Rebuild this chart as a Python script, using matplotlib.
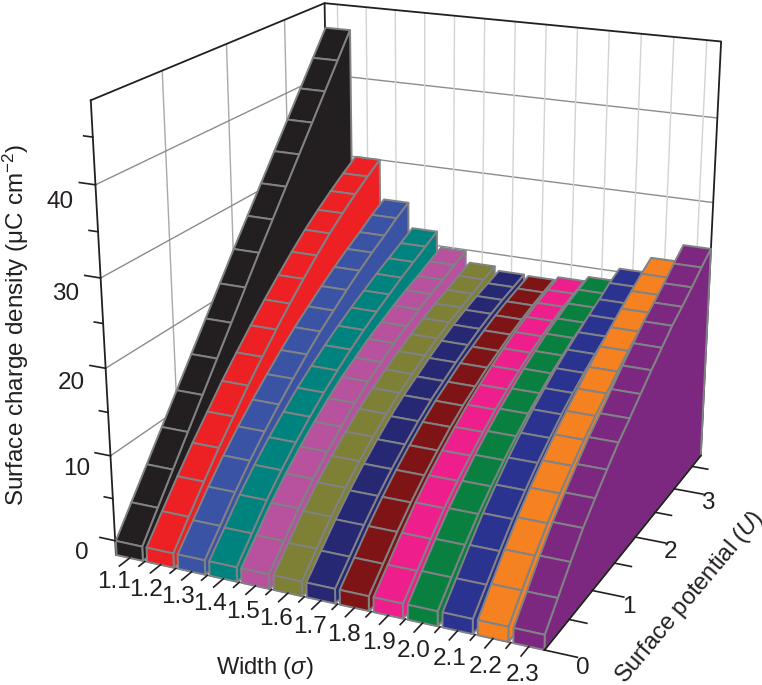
import matplotlib
matplotlib.use("Agg")
import matplotlib.pyplot as plt
from mpl_toolkits.mplot3d.art3d import Poly3DCollection

plt.rcParams["font.family"] = ["Liberation Sans", "DejaVu Sans"]
plt.rcParams["mathtext.fontset"] = "custom"
plt.rcParams["mathtext.rm"] = "Liberation Sans"
plt.rcParams["mathtext.it"] = "Liberation Sans:italic"

# Surface potential at each cell boundary
potential = [0, 0.25, 0.5, 0.75, 1, 1.25, 1.5, 1.75, 2, 2.25, 2.5, 2.75, 3, 3.25, 3.5, 3.75]
width_labels = ["1.1", "1.2", "1.3", "1.4", "1.5", "1.6", "1.7", "1.8", "1.9", "2.0", "2.1", "2.2", "2.3"]
widths = [1.1, 1.2, 1.3, 1.4, 1.5, 1.6, 1.7, 1.8, 1.9, 2.0, 2.1, 2.2, 2.3]
colors = ["#231f20", "#ed2024", "#3a53a4", "#00837f", "#b8529f", "#7e8035", "#262874",
          "#7f1416", "#ee1f8d", "#0a8040", "#2b3391", "#f68121", "#7c2880"]

# Surface charge density, one list per width
s11 = [0, 3.1, 6.2, 9.3, 12.4, 15.5, 18.6, 21.7, 24.8, 27.8, 30.8, 33.8, 36.8, 39.8, 42.8, 45.8]
s12 = [0, 2.8, 5.5, 8.1, 10.5, 12.9, 15.1, 17.2, 19.2, 21.1, 22.9, 24.6, 26.1, 27.5, 28.8, 30]
s13 = [0, 2.5, 5, 7.3, 9.4, 11.3, 13.1, 14.8, 16.4, 17.8, 19.2, 20.5, 21.7, 22.8, 24, 25]
s14 = [0, 2.4, 4.8, 6.9, 8.8, 10.5, 12.1, 13.5, 14.8, 16, 17.1, 18.1, 19.1, 20, 20.9, 21.8]
s15 = [0, 2.3, 4.6, 6.6, 8.4, 10, 11.5, 12.8, 13.9, 15, 15.9, 16.8, 17.6, 18.3, 19.1, 19.8]
s16 = [0, 2.2, 4.4, 6.3, 8, 9.5, 10.9, 12.1, 13.1, 14.1, 15, 15.8, 16.5, 17.1, 17.8, 18.4]
s17 = [0, 2.1, 4.2, 6.1, 7.8, 9.3, 10.7, 11.9, 12.9, 13.9, 14.8, 15.6, 16.3, 16.9, 17.4, 17.9]
s18 = [0, 2.1, 4.2, 6.1, 7.8, 9.3, 10.7, 11.9, 12.9, 13.9, 14.7, 15.5, 16.2, 16.8, 17.3, 17.8]
s19 = [0, 2.1, 4.2, 6.2, 7.9, 9.4, 10.8, 12.1, 13.2, 14.2, 15.1, 15.9, 16.6, 17.2, 17.7, 18.2]
s20 = [0, 2.2, 4.3, 6.3, 8, 9.6, 11, 12.3, 13.4, 14.5, 15.4, 16.3, 17, 17.7, 18.3, 18.8]
s21 = [0, 2.2, 4.4, 6.5, 8.3, 10, 11.5, 12.9, 14.1, 15.2, 16.2, 17.1, 18, 18.8, 19.7, 20.4]
s22 = [0, 2.4, 4.7, 6.8, 8.7, 10.4, 12, 13.4, 14.7, 16, 17.2, 18.3, 19.4, 20.4, 21.4, 22.3]
s23 = [0, 2.4, 4.8, 7.05, 8.9, 10.7, 12.4, 13.8, 15.3, 16.8, 18.2, 19.6, 20.7, 21.9, 23.2, 24.4]
densities = [s11, s12, s13, s14, s15, s16, s17, s18, s19, s20, s21, s22, s23]

minor_widths = [1.15, 1.25, 1.35, 1.45, 1.55, 1.65, 1.75, 1.85, 1.95, 2.05, 2.15, 2.25]
u_major = [0, 1, 2, 3]
u_minor = [0.5, 1.5, 2.5, 3.5]
z_major = [0, 10, 20, 30, 40]
z_minor = [5, 15, 25, 35, 45]

xmin, xmax = 1.055, 2.343
ymin, ymax = 0, 3.75
zmin, zmax = -1.7, 48.8
half = 0.043
edge = "#808285"
text_color = "#231f20"

fig = plt.figure(figsize=(7.62, 6.85), dpi=100)
ax = fig.add_axes([26.5 / 762, -6 / 685, 773 / 762, 773 / 685], projection="3d")
ax.computed_zorder = False
ax.set_proj_type("persp", focal_length=0.5)
ax.view_init(elev=19.8, azim=-65.5)
ax.set_box_aspect((450, 465, 458))
ax.set_xlim(xmin, xmax)
ax.set_ylim(ymin, ymax)
ax.set_zlim(zmin, zmax)
ax.set_axis_off()
ax.patch.set_alpha(0)


def line(xs, ys, zs, color, lw, z=1):
    ax.plot(xs, ys, zs, color=color, lw=lw, zorder=z, clip_on=False, solid_capstyle="projecting")


# walls: grid first, then the box outline
for u in u_major[1:]:
    line([xmin, xmin], [u, u], [zmin, zmax], "#a7a9ac", 1.0)
for z in z_major[1:]:
    line([xmin, xmin], [ymin, ymax], [z, z], "#8a8c8e", 1.0)
    line([xmin, xmax], [ymax, ymax], [z, z], "#8a8c8e", 1.0)
for w in widths:
    line([w, w], [ymax, ymax], [zmin, zmax], "#d1d3d4", 1.0)
line([xmin, xmin, xmax, xmax], [ymin, ymax, ymax, ymax], [zmax, zmax, zmax, zmin], text_color, 1.3, 2)
line([xmin, xmin], [ymin, ymin], [zmin, zmax], text_color, 1.3, 2)
line([xmin, xmin], [ymax, ymax], [zmin, zmax], text_color, 1.3, 2)

# ribbons, far side first so the nearer ones overlap
for i, (w, vals, col) in enumerate(zip(widths, densities, colors)):
    left, right = w - half, w + half
    faces = []
    side = [(right, potential[0], zmin)]
    for u, v in zip(potential, vals):
        side.append((right, u, v))
    side.append((right, potential[-1], zmin))
    faces.append(side)
    for j in range(len(potential) - 1):
        faces.append([(left, potential[j], vals[j]), (right, potential[j], vals[j]),
                      (right, potential[j + 1], vals[j + 1]), (left, potential[j + 1], vals[j + 1])])
    faces.append([(left, 0, zmin), (right, 0, zmin), (right, 0, vals[0]), (left, 0, vals[0])])
    poly = Poly3DCollection(faces, facecolors=col, edgecolors=edge, linewidths=1.4, zorder=10 + i)
    ax.add_collection3d(poly, autolim=False)

# floor edges and ticks
line([xmax, xmax], [ymin, ymax], [zmin, zmin], text_color, 1.3, 30)
line([xmin, xmax], [ymin, ymin], [zmin, zmin], edge, 1.0, 5)
for w, lab in zip(widths, width_labels):
    line([w, w], [0, -0.15], [zmin, zmin], text_color, 1.2, 30)
    ax.text(w + 0.04, -0.40, zmin, lab, fontsize=17.5, color=text_color, ha="center", va="center")
for w in minor_widths:
    line([w, w], [0, -0.09], [zmin, zmin], text_color, 1.2, 30)
for u in u_major:
    line([xmax, xmax + 0.09], [u, u], [zmin, zmin], text_color, 1.2, 30)
    ax.text(xmax + 0.105, u, zmin - 1, str(u), fontsize=17.5, color=text_color, ha="center", va="center")
for u in u_minor:
    line([xmax, xmax + 0.05], [u, u], [zmin, zmin], text_color, 1.2, 30)
for z in z_major:
    line([xmin, xmin - 0.05], [0, 0], [z, z], text_color, 1.2, 30)
    ax.text(xmin - 0.115, 0, z - 2.4, str(z), fontsize=17.5, color=text_color, ha="center", va="center")
for z in z_minor:
    line([xmin, xmin - 0.028], [0, 0], [z, z], text_color, 1.2, 30)

fig.text(16 / 762, 1 - 325 / 685, "Surface charge density (μC cm$^{-2}$)", rotation=90,
         fontsize=17.5, color=text_color, ha="center", va="center")
fig.text(265 / 762, 1 - 668 / 685, r"Width ($\sigma$)", fontsize=17, color=text_color, ha="center", va="center")
fig.text(690 / 762, 1 - 597 / 685, r"Surface potential ($\mathit{U}$)", rotation=50, rotation_mode="anchor",
         fontsize=17, color=text_color, ha="center", va="center")

fig.savefig("out.png", dpi=100)
